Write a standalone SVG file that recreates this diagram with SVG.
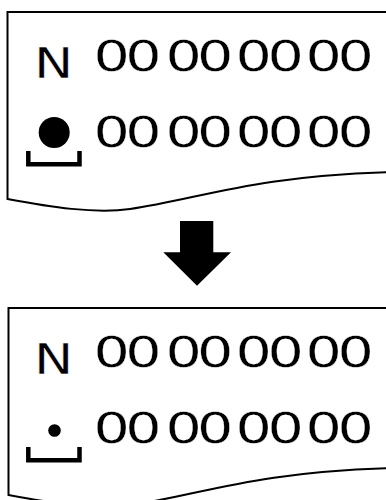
<svg xmlns="http://www.w3.org/2000/svg" width="386" height="500" viewBox="0 0 386 500">
  <defs>
    <style>
      .sheet { fill: #ffffff; stroke: #000000; stroke-width: 2; stroke-linejoin: miter; }
      .txt { font-family: "DejaVu Sans", "Liberation Sans", sans-serif; font-size: 43px; fill: #000000; stroke: #ffffff; stroke-width: 0.3; }
      .bracket { fill: none; stroke: #000000; stroke-width: 4.5; stroke-linecap: butt; stroke-linejoin: miter; }
      .solid { fill: #000000; stroke: none; }
    </style>
    <path id="sheetShape" d="M392,12 H7.5 V199 C50,207 95,214 130,209 C200,199 250,176 392,172"/>
  </defs>
  <rect width="386" height="500" fill="#ffffff"/>

  <g id="panel-before">
    <use href="#sheetShape" class="sheet"/>
    <text class="txt" x="0" y="0" transform="translate(34,77.8) scale(1.22,1)">N</text>
    <text class="txt" x="70.32 94.16 124.46 148.22 177.09 201.07 229.72 253.78" y="0" transform="translate(0,70.8) scale(1.33,1)">00000000</text>
    <circle class="solid" cx="54.2" cy="132.5" r="15.5"/>
    <path class="bracket" d="M28.3,151 V164.2 H79.5 V151"/>
    <text class="txt" x="70.32 94.16 124.46 148.22 177.09 201.07 229.72 253.78" y="0" transform="translate(0,147.2) scale(1.33,1)">00000000</text>
  </g>

  <g id="connectors">
    <polygon class="solid" points="180,221 213.3,221 213.3,252.3 231,252.3 197,285.7 163.3,252.3 180,252.3"/>
  </g>

  <g id="panel-after">
    <use href="#sheetShape" class="sheet" transform="translate(1,296)"/>
    <text class="txt" x="0" y="0" transform="translate(34,373.8) scale(1.22,1)">N</text>
    <text class="txt" x="70.32 94.16 124.46 148.22 177.09 201.07 229.72 253.78" y="0" transform="translate(0,366.8) scale(1.33,1)">00000000</text>
    <circle class="solid" cx="54.5" cy="430.5" r="6.3"/>
    <path class="bracket" d="M28.3,447 V460.2 H79.5 V447"/>
    <text class="txt" x="70.32 94.16 124.46 148.22 177.09 201.07 229.72 253.78" y="0" transform="translate(0,443.2) scale(1.33,1)">00000000</text>
  </g>
</svg>
